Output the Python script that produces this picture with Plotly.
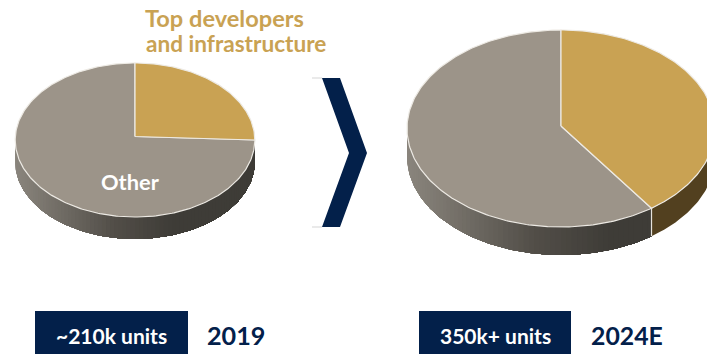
import math
import plotly.graph_objects as go

# Data
segments = ["Top developers and infrastructure", "Other"]
share_2019 = [25, 75]
share_2024 = [40, 60]
years = ["2019", "2024E"]
unit_labels = ["~210k units", "350k+ units"]

GOLD = "#C9A253"
GRAY = "#9C9489"
NAVY = "#03204A"
GOLD_SIDE = "#52401F"

fig = go.Figure()


def ell(cx, cy, rx, ry, deg):
    a = math.radians(deg)
    return cx + rx * math.sin(a), cy - ry * math.cos(a)


def arc(cx, cy, rx, ry, a0, a1):
    n = max(2, int(abs(a1 - a0)))
    pts = [ell(cx, cy, rx, ry, a0 + (a1 - a0) * i / n) for i in range(n + 1)]
    return [p[0] for p in pts], [p[1] for p in pts]


def side_colour(t):
    # t: 0 at the left edge of the disc, 1 where the wall is darkest
    stops = [(0, (138, 133, 125)), (0.35, (106, 102, 95)), (0.62, (82, 78, 72)), (1, (62, 60, 55))]
    for (t0, c0), (t1, c1) in zip(stops, stops[1:]):
        if t <= t1:
            f = (t - t0) / (t1 - t0)
            return "rgb(%d,%d,%d)" % tuple(round(a + (b - a) * f) for a, b in zip(c0, c1))
    return "rgb(62,60,55)"


def wall(a0, a1, cx, cy, rx, ry, depth, colour):
    xs, ys = arc(cx, cy, rx, ry, a0, a1)
    fig.add_trace(go.Scatter(
        x=xs + xs[::-1], y=ys + [v + depth for v in ys[::-1]],
        mode="lines", fill="toself", fillcolor=colour,
        line=dict(width=0), hoverinfo="skip", showlegend=False))


def pie(shares, cx, cy, rx, ry, depth, lift):
    total = sum(shares)
    end = 360 * shares[0] / total
    px, py = cx, cy - lift
    stop = max(90, end)
    # front wall: each pass repaints everything still to its right, so no seams show
    a = 270
    while a > stop:
        x_here = ell(cx, cy, rx, ry, a)[0]
        t = (x_here - (cx - rx)) / (1.3 * rx)
        wall(a, stop, cx, cy, rx, ry, depth, side_colour(min(t, 1)))
        a -= 2
    if end > 90:
        wall(end, 90, cx, cy, rx, ry, depth, GOLD_SIDE)
        ex, ey = ell(cx, cy, rx, ry, end)
        fig.add_trace(go.Scatter(x=[ex, ex], y=[ey, ey + depth], mode="lines",
                                 line=dict(color="#E6E3DC", width=1.2),
                                 hoverinfo="skip", showlegend=False))
    # top face
    for a0, a1, col in [(end, 360, GRAY), (0, end, GOLD)]:
        xs, ys = arc(cx, cy, rx, ry, a0, a1)
        fig.add_trace(go.Scatter(
            x=[px] + xs + [px], y=[py] + ys + [py],
            mode="lines", fill="toself", fillcolor=col,
            line=dict(color="#EDEAE4", width=1.2),
            hoverinfo="skip", showlegend=False))


pie(share_2019, 135, 140, 119.8, 77, 22, 3.5)
pie(share_2024, 561, 128.5, 154, 98.5, 28, 2.5)

shapes = [
    dict(type="path", path="M322 78 L340 78 L367 153 L340 227 L322 227 L349 153 Z",
         fillcolor=NAVY, line=dict(width=0), layer="above"),
    dict(type="line", x0=312, x1=322, y0=78, y1=78, line=dict(color="#D5D5D5", width=1)),
    dict(type="line", x0=312, x1=322, y0=227, y1=227, line=dict(color="#D5D5D5", width=1)),
    dict(type="rect", x0=35, x1=188, y0=311, y1=354, fillcolor=NAVY, line=dict(width=0)),
    dict(type="rect", x0=419, x1=571, y0=311, y1=354, fillcolor=NAVY, line=dict(width=0)),
]

FONT = "Lato"
annotations = [
    dict(x=144, y=18, text="Top developers", xanchor="left", font=dict(color=GOLD, size=23.6, family=FONT, weight=700)),
    dict(x=144.5, y=43, text="and infrastructure", xanchor="left", font=dict(color=GOLD, size=22.6, family=FONT, weight=700)),
    dict(x=130, y=181, text=segments[1], font=dict(color="white", size=21.8, family=FONT, weight=700)),
    dict(x=111.5, y=335, text=unit_labels[0], font=dict(color="white", size=21, family=FONT, weight=700)),
    dict(x=495.5, y=335, text=unit_labels[1], font=dict(color="white", size=21, family=FONT, weight=700)),
    dict(x=206, y=335, text=years[0], xanchor="left", font=dict(color=NAVY, size=25.2, family=FONT, weight=700)),
    dict(x=590, y=335, text=years[1], xanchor="left", font=dict(color=NAVY, size=24.8, family=FONT, weight=700)),
]
for an in annotations:
    an.update(showarrow=False, xref="x", yref="y", yanchor="middle", borderpad=0)

fig.update_layout(
    width=707, height=354, margin=dict(l=0, r=0, t=0, b=0),
    paper_bgcolor="white", plot_bgcolor="white",
    shapes=shapes, annotations=annotations, showlegend=False,
    xaxis=dict(range=[0, 707], visible=False, fixedrange=True),
    yaxis=dict(range=[354, 0], visible=False, fixedrange=True),
)
fig.write_html("out.html", config={"displayModeBar": False},
               post_script="document.body.style.margin='0';document.body.style.overflow='hidden';")
